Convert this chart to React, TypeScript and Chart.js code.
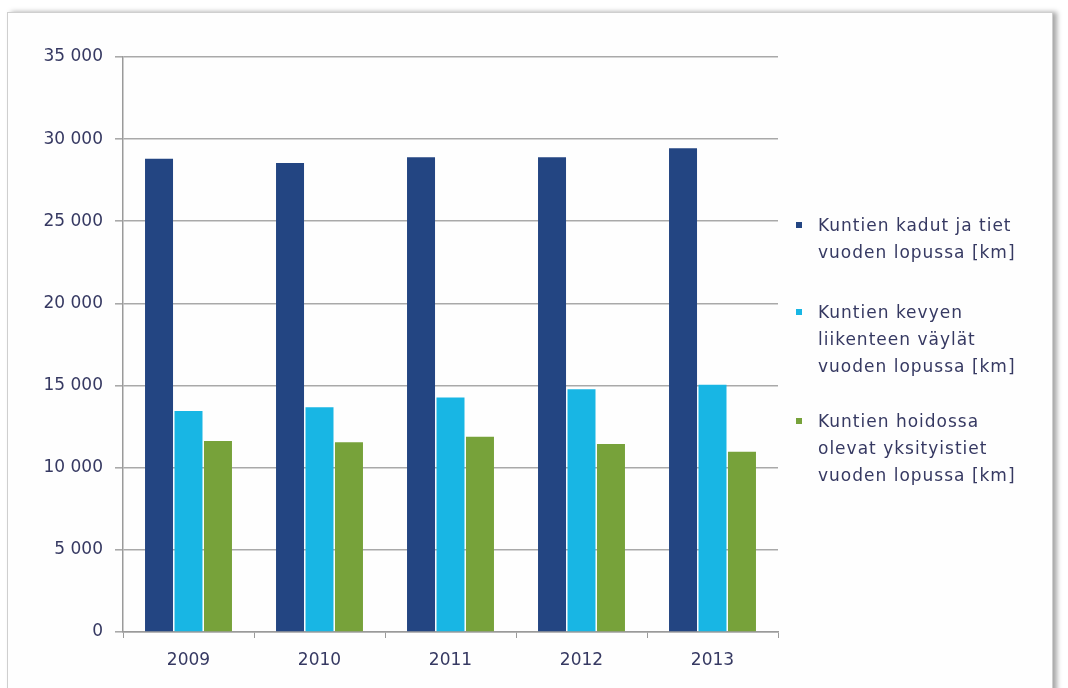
import React, { useEffect, useRef } from "react";
import { Chart, registerables } from "chart.js";

Chart.register(...registerables);

const years = ["2009", "2010", "2011", "2012", "2013"];
const streetsKm = [28800, 28550, 28900, 28900, 29450];
const lightTrafficKm = [13450, 13680, 14280, 14770, 15050];
const privateRoadsKm = [11620, 11550, 11890, 11440, 10970];

const seriesLabels = [
  ["Kuntien kadut ja tiet", "vuoden lopussa [km]"],
  ["Kuntien kevyen", "liikenteen väylät", "vuoden lopussa [km]"],
  ["Kuntien hoidossa", "olevat yksityistiet", "vuoden lopussa [km]"],
];
const seriesColors = ["#234582", "#18b6e4", "#77a23a"];
const seriesValues = [streetsKm, lightTrafficKm, privateRoadsKm];

const yMax = 35000;
const yStep = 5000;

const FONT = "'DejaVu Sans', Verdana, sans-serif";
const TEXT = "#363962";

function fmt(v: number): string {
  return String(v).replace(/\B(?=(\d{3})+(?!\d))/g, " ");
}

const legendTops = [212, 299, 408];

export default function App() {
  const ref = useRef<HTMLCanvasElement | null>(null);

  useEffect(() => {
    if (!ref.current) return;
    const chart = new Chart(ref.current, {
      type: "bar",
      data: {
        labels: years,
        datasets: seriesValues.map((vals, i) => ({
          label: seriesLabels[i].join(" "),
          data: vals,
          backgroundColor: seriesColors[i],
          borderWidth: 0,
          categoryPercentage: 0.675,
          barPercentage: 0.95,
        })),
      },
      options: {
        animation: false,
        responsive: false,
        devicePixelRatio: 1,
        layout: { padding: { left: 0, top: 57, right: 290, bottom: 16 } },
        plugins: {
          legend: { display: false },
          tooltip: { enabled: false },
        },
        scales: {
          x: {
            offset: true,
            grid: {
              offset: true,
              drawOnChartArea: false,
              drawTicks: true,
              tickLength: 6,
              color: "#9a9a9a",
              lineWidth: 1,
            },
            border: { display: true, color: "#9a9a9a", width: 1.5 },
            ticks: {
              color: TEXT,
              font: { family: FONT, size: 17 },
              padding: 12,
            },
            afterFit: (s: any) => {
              s.height = 40;
            },
          },
          y: {
            min: 0,
            max: yMax,
            ticks: {
              stepSize: yStep,
              color: TEXT,
              font: { family: FONT, size: 17 },
              padding: 12,
              callback: (v: any) => fmt(Number(v)),
            },
            grid: {
              color: "#a9a9a9",
              lineWidth: 1.6,
              tickLength: 8,
              drawTicks: true,
            },
            border: { display: true, color: "#9a9a9a", width: 1.5 },
            afterFit: (s: any) => {
              s.width = 123;
            },
          },
        },
      },
    });
    return () => chart.destroy();
  }, []);

  return (
    <div
      style={{
        position: "fixed",
        left: 0,
        top: 0,
        width: 1068,
        height: 688,
        background: "#ffffff",
        overflow: "hidden",
      }}
    >
      <div
        style={{
          position: "absolute",
          left: 7,
          top: 12,
          width: 1044,
          height: 700,
          border: "1px solid #cfcfcf",
          boxShadow: "4px 0 5px rgba(0,0,0,0.35)",
          background: "#fefefe",
        }}
      />
      <canvas
        ref={ref}
        width={1068}
        height={688}
        style={{ position: "absolute", left: 0, top: 0, width: 1068, height: 688 }}
      />
      {seriesLabels.map((lines, i) => (
        <div
          key={i}
          style={{
            position: "absolute",
            left: 796,
            top: legendTops[i],
            fontFamily: FONT,
            fontSize: 17,
            lineHeight: "27px",
            letterSpacing: "1px",
            color: TEXT,
          }}
        >
          <span
            style={{
              position: "absolute",
              left: 0,
              top: 10,
              width: 6,
              height: 6,
              background: seriesColors[i],
            }}
          />
          <div style={{ marginLeft: 22, whiteSpace: "nowrap" }}>
            {lines.map((l, j) => (
              <div key={j}>{l}</div>
            ))}
          </div>
        </div>
      ))}
    </div>
  );
}
